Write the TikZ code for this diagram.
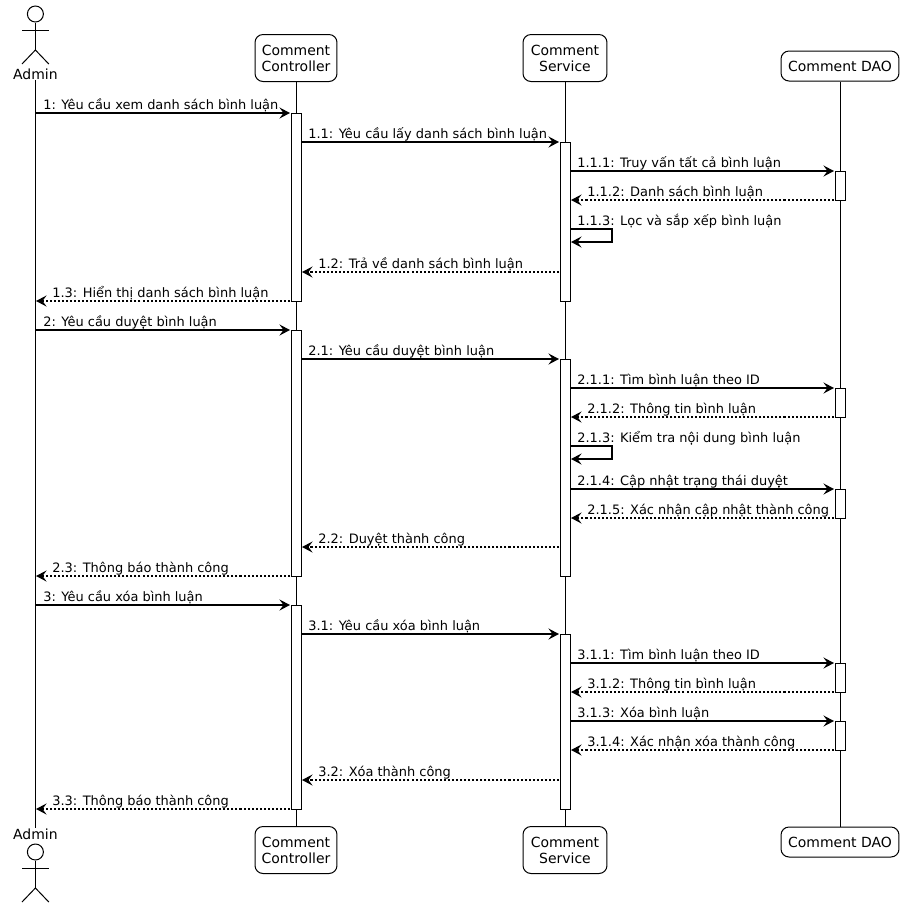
\documentclass[tikz,border=0pt]{standalone}
\usepackage{fontspec}
\setmainfont{DejaVu Sans}
\usepackage{tikz}
\usetikzlibrary{arrows.meta}

\begin{document}
\begin{tikzpicture}[
  x=0.02cm, y=-0.02cm,
  font=\fontsize{7.37pt}{8.9pt}\selectfont,
  part/.style  ={draw, rounded corners=0.16cm, align=center, fill=white, inner sep=0pt, line width=0.57pt,
                 font=\fontsize{7.95pt}{9.2pt}\selectfont},
  actor/.style ={inner sep=0pt, fill=white, font=\fontsize{7.95pt}{9.2pt}\selectfont},
  head/.style  ={draw, circle, minimum size=0.32cm, inner sep=0pt, line width=0.57pt},
  stick/.style ={draw=black, line width=0.57pt},
  life/.style  ={draw=black, line width=0.57pt},
  actbar/.style={draw, fill=white, minimum width=0.2cm, inner sep=0pt, line width=0.57pt},
  lbl/.style   ={anchor=base west, inner sep=0pt},
  msg/.style   ={-{Stealth[length=2.1mm,width=2.2mm,inset=0.8mm]}, draw=black, line width=1.2pt},
  ret/.style   ={msg, dash pattern=on 1.15pt off 1.15pt},
]
\useasboundingbox (0,0) rectangle (904,907);

% participants, top and bottom
\node[actor] (adm)  at (35.4,74)   {Admin};
\node[actor] (admb) at (35.4,834)  {Admin};
\node[part, minimum width=1.64cm, minimum height=0.94cm] (ctl)  at (296,58)  {Comment\\Controller};
\node[part, minimum width=1.64cm, minimum height=0.94cm] (ctlb) at (296,850) {Comment\\Controller};
\node[part, minimum width=1.68cm, minimum height=0.94cm] (svc)  at (565,58)  {Comment\\Service};
\node[part, minimum width=1.68cm, minimum height=0.94cm] (svcb) at (565,850) {Comment\\Service};
\node[part, minimum width=2.36cm, minimum height=0.6cm]  (dao)  at (840,66)  {Comment DAO};
\node[part, minimum width=2.36cm, minimum height=0.6cm]  (daob) at (840,842) {Comment DAO};

% lifelines
\draw[life] (adm) -- (admb);
\draw[life] (ctl) -- (ctlb);
\draw[life] (svc) -- (svcb);
\draw[life] (dao) -- (daob);

% stick figures
\foreach \a/\t in {h1/14, h2/852}{
  \node[head] (\a) at (35.4,\t) {};
  \coordinate (\a hip) at (35.4,\t+36);
  \coordinate (\a la) at (22,\t+16);
  \coordinate (\a ra) at (48.8,\t+16);
  \coordinate (\a ll) at (22,\t+50);
  \coordinate (\a rl) at (48.8,\t+50);
  \draw[stick] (\a) -- (\a hip);
  \draw[stick] (\a la) -- (\a ra);
  \draw[stick] (\a ll) -- (\a hip) -- (\a rl);
}

% activation bars
\foreach \n/\x/\t/\b in {c1/296/113/301, c2/296/330/576, c3/296/605/809,
                         s1/565/142/301, s2/565/359/576, s3/565/634/809,
                         d1/840/171/200, d2/840/388/417, d3/840/489/518,
                         d4/840/663/692, d5/840/721/750}{
  \node[actbar, minimum height={(\b-\t)*0.02cm}] (\n) at (\x,{(\t+\b)/2}) {};
}

% calls
\foreach \n/\f/\g/\y/\lx/\txt in {
  a1/35/290/113/43/{1: Yêu cầu xem danh sách bình luận},
  a2/301/559/142/308/{1.1: Yêu cầu lấy danh sách bình luận},
  a3/570/834/171/577/{1.1.1: Truy vấn tất cả bình luận},
  a4/35/290/330/43/{2: Yêu cầu duyệt bình luận},
  a5/301/559/359/308/{2.1: Yêu cầu duyệt bình luận},
  a6/570/834/388/577/{2.1.1: Tìm bình luận theo ID},
  a7/570/834/489/577/{2.1.4: Cập nhật trạng thái duyệt},
  a8/35/290/605/43/{3: Yêu cầu xóa bình luận},
  a9/301/559/634/308/{3.1: Yêu cầu xóa bình luận},
  a10/570/834/663/577/{3.1.1: Tìm bình luận theo ID},
  a11/570/834/721/577/{3.1.3: Xóa bình luận}}{
  \coordinate (\n s) at (\f,\y);
  \coordinate (\n e) at (\g,\y);
  \draw[msg] (\n s) -- (\n e);
  \node[lbl] (\n t) at (\lx,\y-4) {\txt};
}

% returns
\foreach \n/\f/\g/\y/\lx/\txt in {
  r1/834/571/200/587/{1.1.2: Danh sách bình luận},
  r2/559/302/272/318/{1.2: Trả về danh sách bình luận},
  r3/290/36/301/52/{1.3: Hiển thị danh sách bình luận},
  r4/834/571/417/587/{2.1.2: Thông tin bình luận},
  r5/834/571/518/587/{2.1.5: Xác nhận cập nhật thành công},
  r6/559/302/547/318/{2.2: Duyệt thành công},
  r7/290/36/576/52/{2.3: Thông báo thành công},
  r8/834/571/692/587/{3.1.2: Thông tin bình luận},
  r9/834/571/750/587/{3.1.4: Xác nhận xóa thành công},
  r10/559/302/780/318/{3.2: Xóa thành công},
  r11/290/36/809/52/{3.3: Thông báo thành công}}{
  \coordinate (\n s) at (\f,\y);
  \coordinate (\n e) at (\g,\y);
  \draw[ret] (\n s) -- (\n e);
  \node[lbl] (\n t) at (\lx,\y-4) {\txt};
}

% self calls
\foreach \n/\y/\txt in {f1/229/{1.1.3: Lọc và sắp xếp bình luận}, f2/446/{2.1.3: Kiểm tra nội dung bình luận}}{
  \coordinate (\n s) at (570,\y);
  \coordinate (\n u) at (612,\y);
  \coordinate (\n d) at (612,\y+13);
  \coordinate (\n e) at (571,\y+13);
  \draw[msg] (\n s) -- (\n u) -- (\n d) -- (\n e);
  \node[lbl] (\n t) at (577,\y-4) {\txt};
}
\end{tikzpicture}
\end{document}
